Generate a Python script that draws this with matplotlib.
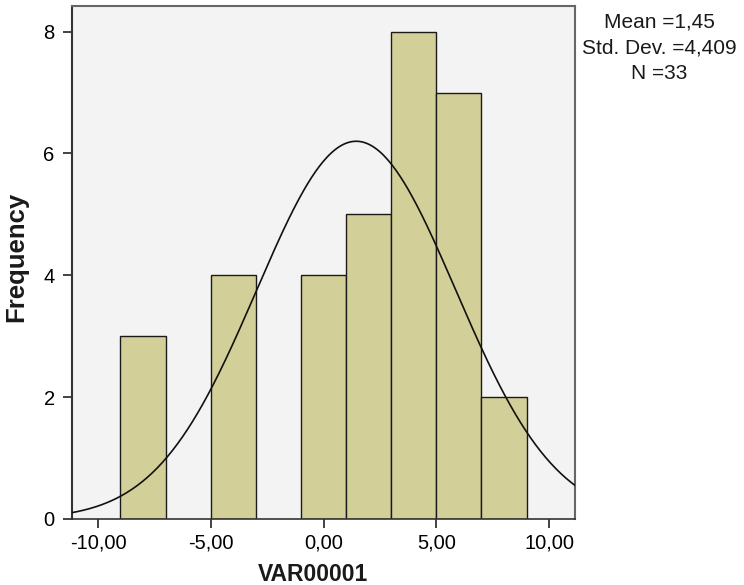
import numpy as np
import matplotlib.pyplot as plt

plt.rcParams['font.family'] = ['Liberation Sans', 'DejaVu Sans']

# histogram data (bins of width 2)
bin_edges = [-9, -7, -5, -3, -1, 1, 3, 5, 7, 9]
counts = [3, 0, 4, 0, 4, 5, 8, 7, 2]
mean = 1.45
std = 4.409
n = 33
curve_peak = 6.2  # height of the normal curve

xticks = [-10, -5, 0, 5, 10]
xtick_labels = ['-10,00', '-5,00', '0,00', '5,00', '10,00']
yticks = [0, 2, 4, 6, 8]

fig = plt.figure(figsize=(7.44, 5.85), dpi=100)
ax = fig.add_axes([72 / 744, 1 - 519 / 585, (575 - 72) / 744, (519 - 6) / 585])
ax.set_facecolor('#f3f3f3')

lefts = bin_edges[:-1]
widths = np.diff(bin_edges)
for x0, w, c in zip(lefts, widths, counts):
    if c > 0:
        ax.bar(x0, c, width=w, align='edge', color='#d3cf98',
               edgecolor='#1a1a1a', linewidth=1.0, zorder=2)

xs = np.linspace(-11.2, 11.2, 400)
ys = curve_peak * np.exp(-0.5 * ((xs - mean) / std) ** 2)
ax.plot(xs, ys, color='#111111', linewidth=1.2, zorder=3)

ax.set_xlim(-11.15, 11.15)
ax.set_ylim(0, 8.42)
ax.set_xticks(xticks)
ax.set_xticklabels(xtick_labels)
ax.set_yticks(yticks)
ax.tick_params(axis='both', labelsize=14.5, length=6.5, width=1.2, color='#222222')
ax.tick_params(axis='x', pad=4)
ax.tick_params(axis='y', pad=6)

for side in ['top', 'right']:
    ax.spines[side].set_color('#666666')
    ax.spines[side].set_linewidth(1.5)
ax.spines['left'].set_color('#333333')
ax.spines['left'].set_linewidth(1.5)
ax.spines['bottom'].set_color('#333333')
ax.spines['bottom'].set_linewidth(1.2)

ax.set_xlabel('VAR00001', fontsize=16.5, fontweight='bold', color='#1a1a1a')
ax.xaxis.set_label_coords((313 - 72) / 503, -44 / 513)
ax.xaxis.label.set_va('top')
ax.set_ylabel('Frequency', fontsize=18.5, fontweight='bold', color='#1a1a1a')
ax.yaxis.set_label_coords(-44 / 503, 0.51)

fig.text(659 / 744, 1 - 13 / 585,
         'Mean =1,45\nStd. Dev. =4,409\nN =33',
         ha='center', va='top', fontsize=15, linespacing=1.42, color='#1a1a1a')

fig.savefig('out.png', dpi=100)
